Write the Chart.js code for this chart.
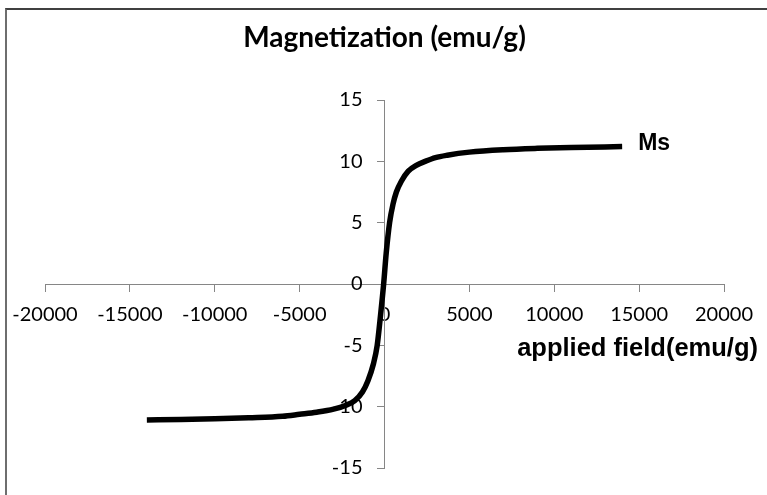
<!DOCTYPE html>
<html>
<head>
<meta charset="utf-8">
<script src="https://cdn.jsdelivr.net/npm/chart.js@4/dist/chart.umd.min.js"></script>
<style>
  html, body { margin: 0; padding: 0; background: #fff; }
  #wrap { position: relative; width: 767px; height: 495px; overflow: hidden; }
  #frame { position: absolute; left: 5px; top: 8px; width: 800px; height: 600px;
           border-left: 2px solid #6e6e6e; border-top: 2px solid #404040; box-sizing: border-box; pointer-events: none; }
  canvas { position: absolute; left: 0; top: 0; }
</style>
</head>
<body>
<div id="wrap">
  <canvas id="c" width="767" height="495"></canvas>
  <div id="frame"></div>
</div>
<script>
// Applied field values (x) and magnetization values (y)
const fieldValues = [-14000, -12000, -10000, -8000, -6000, -5000, -4000, -3000, -2300, -1750, -1300, -980, -650, -430, -230, -50, 100, 300, 500, 700, 1000, 1400, 1900, 2400, 3000, 3700, 5000, 7000, 9000, 11000, 14000];
const magnetization = [-11.08, -11.04, -10.98, -10.9, -10.78, -10.62, -10.45, -10.2, -9.9, -9.5, -8.8, -7.9, -6.5, -5.0, -2.5, 0, 2.5, 5.0, 6.5, 7.5, 8.4, 9.2, 9.7, 10.0, 10.3, 10.5, 10.75, 10.95, 11.06, 11.13, 11.2];
const xTicks = [-20000, -15000, -10000, -5000, 0, 5000, 10000, 15000, 20000];
const yTicks = [-15, -10, -5, 0, 5, 10, 15];
const chartTitle = 'Magnetization (emu/g)';
const xAxisTitle = 'applied field(emu/g)';
const curveLabel = 'Ms';

const points = fieldValues.map((x, i) => ({ x: x, y: magnetization[i] }));
const tickFont = '20px Lato, "Open Sans", sans-serif';

const annotations = {
  id: 'annotations',
  afterDatasetsDraw(chart) {
    const ctx = chart.ctx;
    const meta = chart.getDatasetMeta(0);
    const last = meta.data[meta.data.length - 1];
    const xs = chart.scales.x;
    const ys = chart.scales.y;
    const axisX = xs.getPixelForValue(0);
    ctx.save();
    ctx.fillStyle = '#000';
    // y tick labels (left of the centred y axis)
    ctx.font = tickFont;
    ctx.textAlign = 'right';
    ctx.textBaseline = 'middle';
    yTicks.forEach(v => ctx.fillText(String(v), axisX - 22, ys.getPixelForValue(v)));
    ctx.font = 'bold 23px "Liberation Sans", Arial, sans-serif';
    ctx.textAlign = 'left';
    ctx.fillText(curveLabel, last.x + 16, last.y - 3);
    ctx.font = 'bold 25.5px "Liberation Sans", Arial, sans-serif';
    ctx.textAlign = 'right';
    ctx.fillText(xAxisTitle, xs.right + 34, ys.getPixelForValue(0) + 65);
    ctx.restore();
  }
};

new Chart(document.getElementById('c'), {
  type: 'line',
  data: {
    datasets: [{
      data: points,
      borderColor: '#000',
      borderWidth: 5.5,
      pointRadius: 0,
      fill: false,
      cubicInterpolationMode: 'monotone'
    }]
  },
  options: {
    responsive: false,
    animation: false,
    devicePixelRatio: 1,
    layout: { padding: { left: 45, right: 43, top: 0, bottom: 27 } },
    plugins: {
      legend: { display: false },
      tooltip: { enabled: false },
      title: {
        display: true,
        text: chartTitle,
        color: '#000',
        font: { family: 'Lato, "Open Sans", sans-serif', size: 28, weight: 'bold', lineHeight: 1.2 },
        padding: { top: 21, bottom: 45.4 }
      }
    },
    scales: {
      x: {
        type: 'linear',
        position: { y: 0 },
        min: -20000, max: 20000,
        afterBuildTicks: (s) => { s.ticks = xTicks.map(v => ({ value: v })); },
        grid: { drawOnChartArea: false, drawTicks: true, tickLength: 7, color: '#868686' },
        border: { display: true, color: '#868686', width: 1 },
        ticks: { color: '#000', padding: 12, maxRotation: 0, autoSkip: false,
                 font: { family: 'Lato, "Open Sans", sans-serif', size: 20 },
                 callback: (v) => String(v) }
      },
      y: {
        type: 'linear',
        position: { x: 0 },
        min: -15, max: 15,
        afterBuildTicks: (s) => { s.ticks = yTicks.map(v => ({ value: v })); },
        grid: { drawOnChartArea: false, drawTicks: true, tickLength: 7, color: '#868686' },
        border: { display: true, color: '#868686', width: 1 },
        ticks: { color: 'rgba(0,0,0,0)', padding: 14, autoSkip: false,
                 font: { family: 'Lato, "Open Sans", sans-serif', size: 20 },
                 callback: (v) => String(v) }
      }
    }
  },
  plugins: [annotations]
});
</script>
</body>
</html>
